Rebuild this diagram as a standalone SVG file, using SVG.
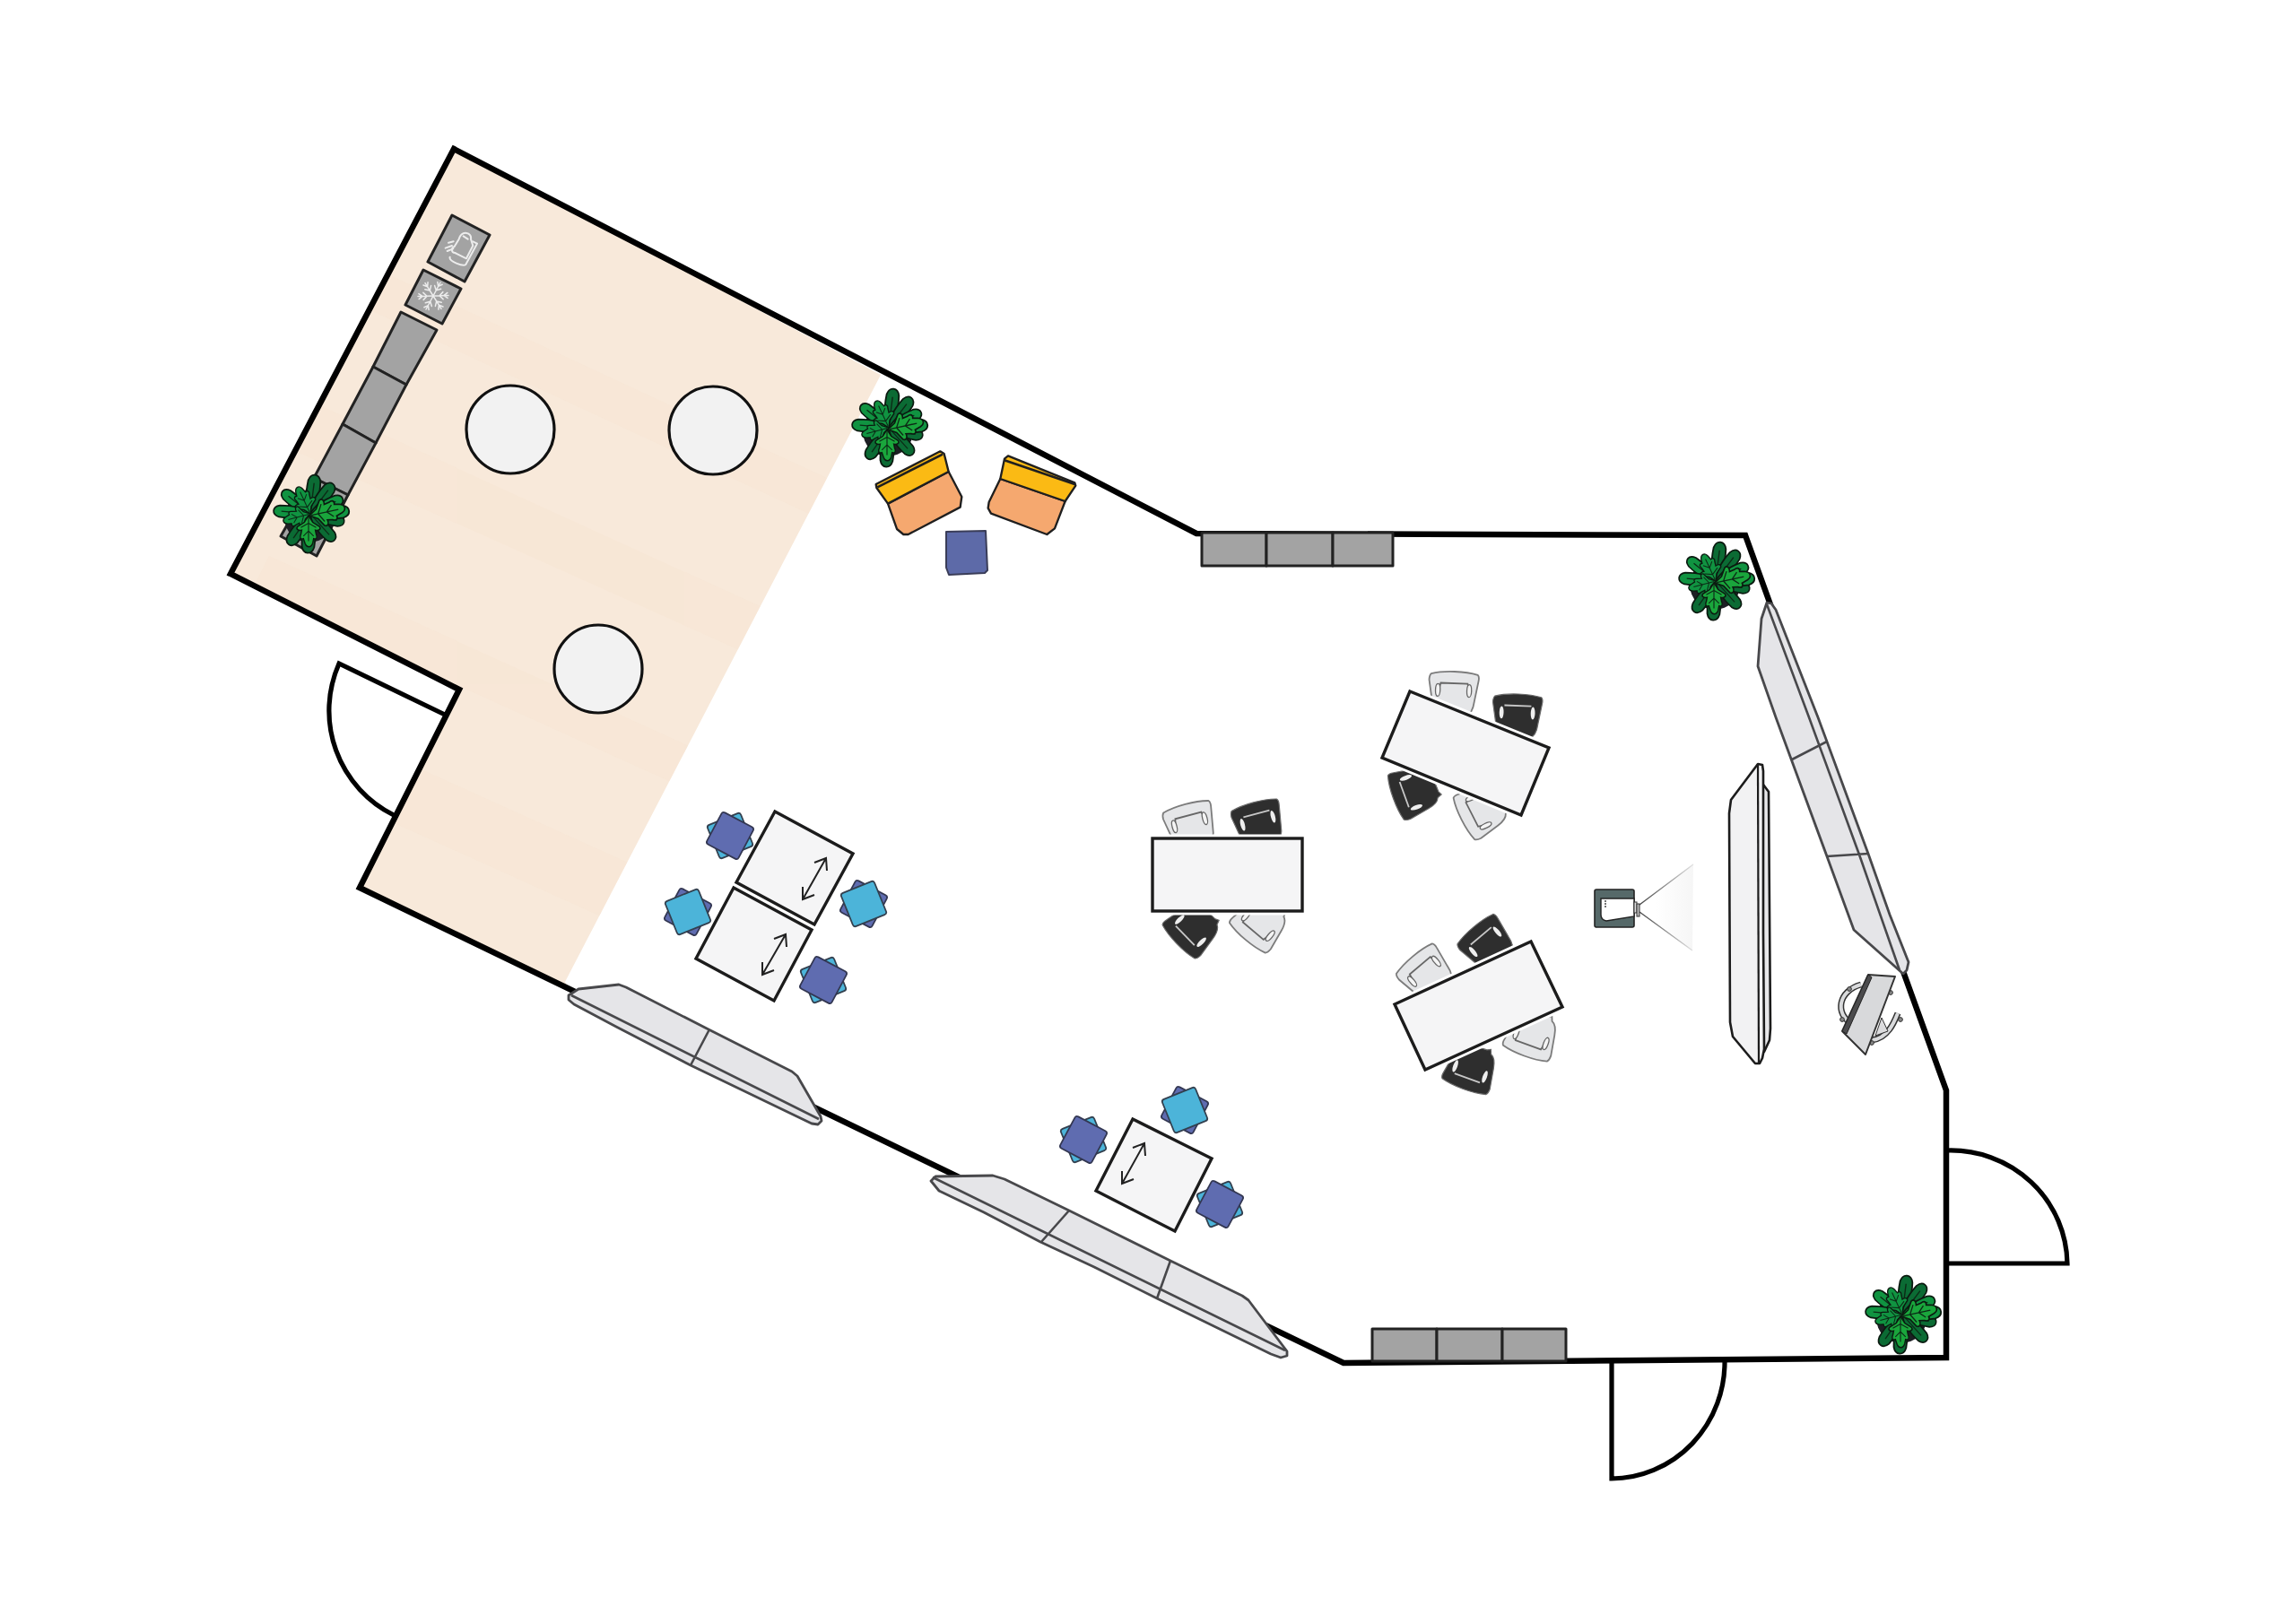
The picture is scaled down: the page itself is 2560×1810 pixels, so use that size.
<svg xmlns="http://www.w3.org/2000/svg" xmlns:xlink="http://www.w3.org/1999/xlink" width="2560" height="1810" viewBox="0 0 2560 1810">
<style>
.wall{fill:none;stroke:#000;stroke-width:6.5;stroke-linejoin:miter}
.door{fill:none;stroke:#000;stroke-width:5.2}
.tbl{fill:#f5f5f6;stroke:#1c1c1c;stroke-width:3.4;stroke-linejoin:miter}
.halo{fill:none;stroke:#fff;stroke-width:9}
.round{fill:#f2f2f2;stroke:#111;stroke-width:3.2}
.unit{fill:#a3a3a3;stroke:#222;stroke-width:3;stroke-linejoin:round}
.board{fill:#e5e5e8;stroke:#48484b;stroke-width:2.8;stroke-linejoin:round}
.bline{fill:none;stroke:#48484b;stroke-width:2.6}
.arrow{fill:none;stroke:#222;stroke-width:2}
.icon{fill:none;stroke:#ececec;stroke-width:1.5;stroke-linecap:round;stroke-linejoin:round}
.cy{fill:#4cb4d9;stroke:#33404f;stroke-width:1.8}
.pu{fill:#5f6cb0;stroke:#333752;stroke-width:1.8}
.vein{fill:none;stroke:#0c2a16;stroke-width:1.2}
</style>
<defs>
<clipPath id="floorClip"><polygon points="506,166 982,418 630,1095 637,1105 401,990 512,769 257,640"/></clipPath>
<linearGradient id="beam" x1="0" x2="1" y1="0" y2="0"><stop offset="0.3" stop-color="#fff"/><stop offset="1" stop-color="#f6f6f6"/></linearGradient>
<linearGradient id="beamLine" gradientUnits="userSpaceOnUse" x1="1828" y1="0" x2="1890" y2="0"><stop offset="0" stop-color="#444"/><stop offset="1" stop-color="#e8e8e8"/></linearGradient>
<rect id="sq" x="-20" y="-20" width="40" height="40" rx="3"/>
<g id="lf"><path d="M0,0 C8,-6 20,-7 32,-6 C40,-4 40,4 32,6 C20,7 8,6 0,0Z" stroke="#0b1a10" stroke-width="1.6"/><path class="vein" d="M4,0 L30,0"/></g>
<g id="clf"><path d="M0,0 L8,-5 L13,-13 C16,-15 18,-12 17,-8 L22,-9 C26,-11 28,-9 27,-6 L32,-5 C38,-3 38,2 33,4 L27,6 C28,9 26,11 22,9 L17,8 C18,12 16,15 13,13 L8,5 Z" stroke="#0b1a10" stroke-width="1.5"/><path class="vein" d="M2,0 L30,0 M9,0 L14,-9 M9,0 L14,9 M18,0 L24,-6 M18,0 L24,6"/></g>
<g id="plant">
<circle cx="-1" cy="4" r="28" fill="#1d1f24"/>
<g fill="#0b6b34">
<use xlink:href="#lf" href="#lf" transform="rotate(-83) scale(1.15)"/>
<use xlink:href="#lf" href="#lf" transform="rotate(-53) scale(1.1)"/>
<use xlink:href="#lf" href="#lf" transform="rotate(125) scale(1.1)"/>
<use xlink:href="#lf" href="#lf" transform="rotate(94) scale(1.15)"/>
<use xlink:href="#lf" href="#lf" transform="rotate(14) scale(1.02)"/>
<use xlink:href="#lf" href="#lf" transform="rotate(48) scale(1.05)"/>
</g>
<g fill="#109341">
<use xlink:href="#lf" href="#lf" transform="rotate(-141) scale(1.05)"/>
<use xlink:href="#lf" href="#lf" transform="rotate(-175) scale(1.08)"/>
<use xlink:href="#lf" href="#lf" transform="rotate(-4) scale(1.14)"/>
<use xlink:href="#lf" href="#lf" transform="rotate(-26) scale(1.05)"/>
<use xlink:href="#clf" href="#clf" transform="rotate(-115) scale(.9)"/>
<use xlink:href="#clf" href="#clf" transform="rotate(165) scale(.85)"/>
</g>
<g fill="#1aa63c">
<use xlink:href="#clf" href="#clf" transform="translate(-1,2) rotate(-12) scale(1.1)"/>
<use xlink:href="#clf" href="#clf" transform="translate(-2,2) rotate(90) scale(.95)"/>
</g>
</g>
<g id="chairL">
<path d="M-26,-22 C-12,-26 12,-26 26,-22 Q28,-20 27,-15 L23,8 C22,18 19,22 14,24 L-10,25 L-14,27 L-16,22 C-21,20 -23,14 -24,8 L-28,-15 Q-28,-20 -26,-22Z" fill="#e5e6e8" stroke="#7c7c7c" stroke-width="1.8"/>
<path d="M-17,-4 L-15,-12 L15,-12 L17,-4" fill="none" stroke="#666" stroke-width="1.8"/>
<ellipse cx="-18" cy="-4" rx="2.6" ry="7" fill="#f4f4f4" stroke="#666" stroke-width="1.3"/>
<ellipse cx="17" cy="-4" rx="2.6" ry="7" fill="#f4f4f4" stroke="#666" stroke-width="1.3"/>
</g>
<g id="chairD">
<path d="M-26,-22 C-12,-26 12,-26 26,-22 Q28,-20 27,-15 L23,8 C22,18 19,22 14,24 L-10,25 L-14,27 L-16,22 C-21,20 -23,14 -24,8 L-28,-15 Q-28,-20 -26,-22Z" fill="#2e2e2e" stroke="#6a6a6a" stroke-width="1.2"/>
<path d="M-15,-12 L15,-12" fill="none" stroke="#c8c8c8" stroke-width="1.8"/>
<ellipse cx="-18" cy="-4" rx="2.4" ry="7" fill="#eee"/>
<ellipse cx="17" cy="-4" rx="2.4" ry="7" fill="#eee"/>
</g>
<path id="tw" class="icon" d="M0,0 L0,-17 M0,-7 L-4,-11 M0,-7 L4,-11 M0,-12 L-3,-16 M0,-12 L3,-16"/>
</defs>

<g id="floor">
<polygon points="506,166 982,418 630,1095 637,1105 401,990 512,769 257,640" fill="#f8e9da"/>
<g clip-path="url(#floorClip)" fill="#f7e3d0" opacity=".32">
<polygon points="420,300 980,560 960,600 400,340"/>
<polygon points="330,440 900,700 880,750 300,490"/>
<polygon points="300,620 830,860 810,900 280,660"/>
<polygon points="430,840 740,980 710,1040 400,900"/>
</g>
</g>

<g id="connectors">
<polygon id="walls" class="wall" points="506,166 1334,595 1946,597 2170,1216 2170,1514 1498,1520 401,990 512,769 257,640"/>
</g>

<g id="door-west"><path class="door" d="M496,797 L378,740 A130,130 0 0 0 439,909"/></g>
<g id="door-east"><path class="door" d="M2171,1283 A130,128 0 0 1 2305,1409 L2171,1409"/></g>
<g id="door-south"><path class="door" d="M1800,1517 L1800,1649 A127,130 0 0 0 1926,1517" transform="translate(-3,0)"/></g>

<g id="kitchen-counter">
<polygon class="unit" points="447,348 487,368 453,429 416,409"/>
<polygon class="unit" points="416,409 453,429 419,494 382,473"/>
<polygon class="unit" points="382,473 419,494 388,552 350,533"/>
<polygon class="unit" points="350,533 388,552 353,620 313,598"/>
</g>
<g id="kettle-unit">
<polygon class="unit" points="504,240 546,262 518,314 477,292"/>
<g transform="translate(240 150) scale(.3333)">
<path class="icon" style="stroke-width:6" d="M815,350 C825,318 860,328 855,350 L862,372 L840,415 L802,396 C790,396 788,380 800,375 Z"/>
<path class="icon" style="stroke-width:6" d="M785,410 C780,425 830,442 838,435 L876,365 L862,358 M830,340 L845,350"/>
<path class="icon" style="stroke-width:6" d="M770,380 L792,372 M776,390 L796,382 M780,362 L797,358"/>
</g>
</g>
<g id="freezer-unit">
<polygon class="unit" points="472,301 514,322 493,361 452,340"/>
<g transform="translate(483 330) rotate(28)">
<use xlink:href="#tw" href="#tw"/><use xlink:href="#tw" href="#tw" transform="rotate(60)"/><use xlink:href="#tw" href="#tw" transform="rotate(120)"/><use xlink:href="#tw" href="#tw" transform="rotate(180)"/><use xlink:href="#tw" href="#tw" transform="rotate(240)"/><use xlink:href="#tw" href="#tw" transform="rotate(300)"/>
</g>
</g>

<g id="round-tables">
<circle class="round" cx="569" cy="479" r="49"/>
<circle class="round" cx="795" cy="480" r="49"/>
<circle class="round" cx="667" cy="746" r="49"/>
</g>

<g id="plants">
<use xlink:href="#plant" href="#plant" x="346" y="573"/>
<use xlink:href="#plant" href="#plant" x="991" y="477"/>
<use xlink:href="#plant" href="#plant" x="1913" y="648"/>
<use xlink:href="#plant" href="#plant" x="2121" y="1466"/>
</g>

<g id="armchairs" transform="translate(920 400) scale(.3333)" stroke="#1f1f1f" stroke-width="7" stroke-linejoin="round">
<g id="armchair-left">
<path fill="#f5a86f" d="M210,485 L413,378 L457,462 L452,497 L278,588 L262,588 L240,570 Z"/>
<path fill="#fbba14" d="M170,420 L385,310 L398,318 L413,378 L210,485 L172,432 Z"/>
<path fill="none" stroke-width="8" d="M175,430 L393,320"/>
</g>
<g id="armchair-right">
<path fill="#f5a86f" d="M586,402 L803,477 L768,568 L742,588 L555,518 L545,500 L548,480 Z"/>
<path fill="#fbba14" d="M600,335 L612,325 L835,415 L838,425 L803,477 L586,402 Z"/>
<path fill="none" stroke-width="8" d="M600,340 L835,420"/>
</g>
</g>
<g id="pouf"><path d="M1055,593 L1099,592 L1101,636 L1098,639 L1058,641 L1055,633 Z" fill="#5d6aa8" stroke="#3a3d58" stroke-width="2" stroke-linejoin="round"/></g>

<g id="units-north">
<rect class="unit" x="1340" y="594" width="72" height="37"/>
<rect class="unit" x="1412" y="594" width="74" height="37"/>
<rect class="unit" x="1486" y="594" width="67" height="37"/>
</g>
<g id="units-south">
<rect class="unit" x="1530" y="1482" width="72" height="36"/>
<rect class="unit" x="1602" y="1482" width="73" height="36"/>
<rect class="unit" x="1675" y="1482" width="71" height="36"/>
</g>

<g id="stools">
<g transform="translate(814 932)"><use xlink:href="#sq" href="#sq" class="cy" transform="rotate(-22)"/><use xlink:href="#sq" href="#sq" class="pu" transform="rotate(28)"/></g>
<g transform="translate(767 1017)"><use xlink:href="#sq" href="#sq" class="pu" transform="rotate(28)"/><use xlink:href="#sq" href="#sq" class="cy" transform="rotate(-22)"/></g>
<g transform="translate(963 1008)"><use xlink:href="#sq" href="#sq" class="pu" transform="rotate(28)"/><use xlink:href="#sq" href="#sq" class="cy" transform="rotate(-22)"/></g>
<g transform="translate(918 1093)"><use xlink:href="#sq" href="#sq" class="cy" transform="rotate(-22)"/><use xlink:href="#sq" href="#sq" class="pu" transform="rotate(28)"/></g>
<g transform="translate(1208 1271)"><use xlink:href="#sq" href="#sq" class="cy" transform="rotate(-22)"/><use xlink:href="#sq" href="#sq" class="pu" transform="rotate(28)"/></g>
<g transform="translate(1321 1238)"><use xlink:href="#sq" href="#sq" class="pu" transform="rotate(28)"/><use xlink:href="#sq" href="#sq" class="cy" transform="rotate(-22)"/></g>
<g transform="translate(1360 1343)"><use xlink:href="#sq" href="#sq" class="cy" transform="rotate(-22)"/><use xlink:href="#sq" href="#sq" class="pu" transform="rotate(28)"/></g>
</g>

<g id="fold-tables">
<polygon class="tbl" points="864,905 951,952 908,1031 821,984"/>
<polygon class="tbl" points="818,990 905,1037 863,1116 776,1069"/>
<polygon class="tbl" points="1263,1248 1351,1292 1310,1373 1222,1328"/>
<path class="arrow" d="M921,957 L895,1003 M908,962 L921,957 L922,971 M895,989 L895,1003 L908,998"/>
<path class="arrow" d="M876,1042 L850,1087 M863,1047 L876,1042 L877,1056 M850,1073 L850,1087 L863,1082"/>
<path class="arrow" d="M1276,1275 L1251,1320 M1263,1280 L1276,1275 L1277,1289 M1251,1306 L1251,1320 L1264,1315"/>
</g>

<g id="desk-a">
<use xlink:href="#chairL" href="#chairL" transform="translate(1328 921) rotate(-15)"/>
<use xlink:href="#chairD" href="#chairD" transform="translate(1404 919) rotate(-15)"/>
<use xlink:href="#chairD" href="#chairD" transform="translate(1330 1035) rotate(-134)"/>
<use xlink:href="#chairL" href="#chairL" transform="translate(1405 1029) rotate(-140)"/>
<rect class="halo" x="1285" y="935" width="167" height="81"/>
<rect class="tbl" x="1285" y="935" width="167" height="81"/>
</g>
<g id="desk-b">
<use xlink:href="#chairL" href="#chairL" transform="translate(1621 774) rotate(2)"/>
<use xlink:href="#chairD" href="#chairD" transform="translate(1692 799) rotate(2)"/>
<use xlink:href="#chairD" href="#chairD" transform="translate(1577 882) rotate(-110)"/>
<use xlink:href="#chairL" href="#chairL" transform="translate(1652 903) rotate(-117)"/>
<polygon class="halo" points="1572,771 1727,834 1696,909 1541,845"/>
<polygon class="tbl" points="1572,771 1727,834 1696,909 1541,845"/>
</g>
<g id="desk-c">
<use xlink:href="#chairL" href="#chairL" transform="translate(1591 1086) rotate(-40)"/>
<use xlink:href="#chairD" href="#chairD" transform="translate(1659 1053) rotate(-40)"/>
<use xlink:href="#chairD" href="#chairD" transform="translate(1640 1191) rotate(-160)"/>
<use xlink:href="#chairL" href="#chairL" transform="translate(1708 1154) rotate(-160)"/>
<polygon class="halo" points="1707,1050 1742,1123 1589,1193 1555,1120"/>
<polygon class="tbl" points="1707,1050 1742,1123 1589,1193 1555,1120"/>
</g>

<g id="whiteboard-sw">
<path class="board" d="M634,1110 L645,1103 L690,1098 L698,1101 L790,1148 L883,1195 L889,1200 L915,1245 L916,1250 L912,1254 L905,1253 L770,1188 L687,1145 L640,1120 L634,1115 Z"/>
<path class="bline" d="M637,1110 L913,1248 M791,1148 L770,1188"/>
</g>
<g id="whiteboard-s">
<path class="board" d="M1038,1317 L1043,1312 L1107,1311 L1120,1315 L1192,1350 L1305,1406 L1385,1445 L1392,1450 L1435,1507 L1435,1512 L1428,1514 L1417,1510 L1290,1448 L1220,1413 L1160,1385 L1097,1352 L1047,1328 Z"/>
<path class="bline" d="M1040,1313 L1433,1506 M1192,1350 L1161,1385 M1305,1406 L1290,1448"/>
</g>
<g id="whiteboard-e">
<path class="board" d="M1970,672 L1975,673 L1980,680 L2027,800 L2083,952 L2107,1020 L2128,1073 L2126,1082 L2122,1086 L2067,1037 L2037,955 L1980,800 L1960,743 L1964,690 Z"/>
<path class="bline" d="M1970,674 L2017,800 L2073,953 L2118,1082 M1998,847 L2037,827 M2037,955 L2083,952"/>
</g>

<g id="screen" stroke="#1c1c1c" stroke-width="2.6" stroke-linejoin="round">
<path fill="#e8e8ea" d="M1962,875 L1966,875 L1972,883 L1974,1147 L1973,1160 L1967,1173 L1962,1173 Z"/>
<path fill="#f2f2f3" d="M1960,852 L1965,853 L1966,860 L1966,1040 L1967,1170 L1965,1180 L1962,1186 L1957,1186 L1932,1156 L1929,1140 L1928,907 L1930,892 Z"/>
<path fill="none" d="M1960,852 L1961,1186" stroke-width="2.2"/>
</g>

<g id="projector">
<polygon points="1828,1013 1888,963 1887,1060" fill="url(#beam)"/>
<path d="M1828,1009 L1888,964 M1828,1017 L1887,1060" fill="none" stroke="url(#beamLine)" stroke-width="1.4"/>
<rect x="1778" y="992" width="44" height="42" rx="2" fill="#566969" stroke="#222" stroke-width="1.6"/>
<path d="M1822,1002 L1785,1002 L1785,1020 Q1785,1026 1791,1027 L1822,1022 Z" fill="#fff" stroke="#222" stroke-width="1.4"/>
<rect x="1822" y="1006" width="3" height="12" fill="#ddd" stroke="#333" stroke-width="1"/>
<rect x="1825" y="1008" width="3" height="14" fill="#bbb" stroke="#333" stroke-width="1"/>
<circle cx="1790" cy="1005" r="1" fill="#444"/><circle cx="1790" cy="1008" r="1" fill="#444"/><circle cx="1790" cy="1011" r="1" fill="#444"/>
</g>

<g id="flipchart" stroke="#333" stroke-linejoin="round">
<path d="M2075,1098 C2050,1105 2045,1130 2065,1142" fill="none" stroke-width="7"/>
<path d="M2075,1098 C2050,1105 2045,1130 2065,1142" fill="none" stroke="#d9dadc" stroke-width="4"/>
<path d="M2087,1160 C2105,1158 2112,1140 2116,1130" fill="none" stroke-width="7"/>
<path d="M2087,1160 C2105,1158 2112,1140 2116,1130" fill="none" stroke="#d9dadc" stroke-width="4"/>
<polygon points="2098,1135 2105,1150 2091,1155" fill="#dcdcde" stroke-width="1"/>
<circle cx="2062" cy="1103" r="2.4" fill="#888" stroke-width="1"/><circle cx="2054" cy="1137" r="2.4" fill="#888" stroke-width="1"/><circle cx="2108" cy="1107" r="2.4" fill="#888" stroke-width="1"/><circle cx="2119" cy="1137" r="2.4" fill="#888" stroke-width="1"/><circle cx="2087" cy="1163" r="2.4" fill="#888" stroke-width="1"/>
<polygon points="2083,1087 2113,1089 2080,1176 2054,1150" fill="#d8d9db" stroke-width="2"/>
<polygon points="2083,1087 2087,1090 2059,1153 2054,1150" fill="#4b4b4d" stroke="#222" stroke-width="1"/>
</g>
</svg>
